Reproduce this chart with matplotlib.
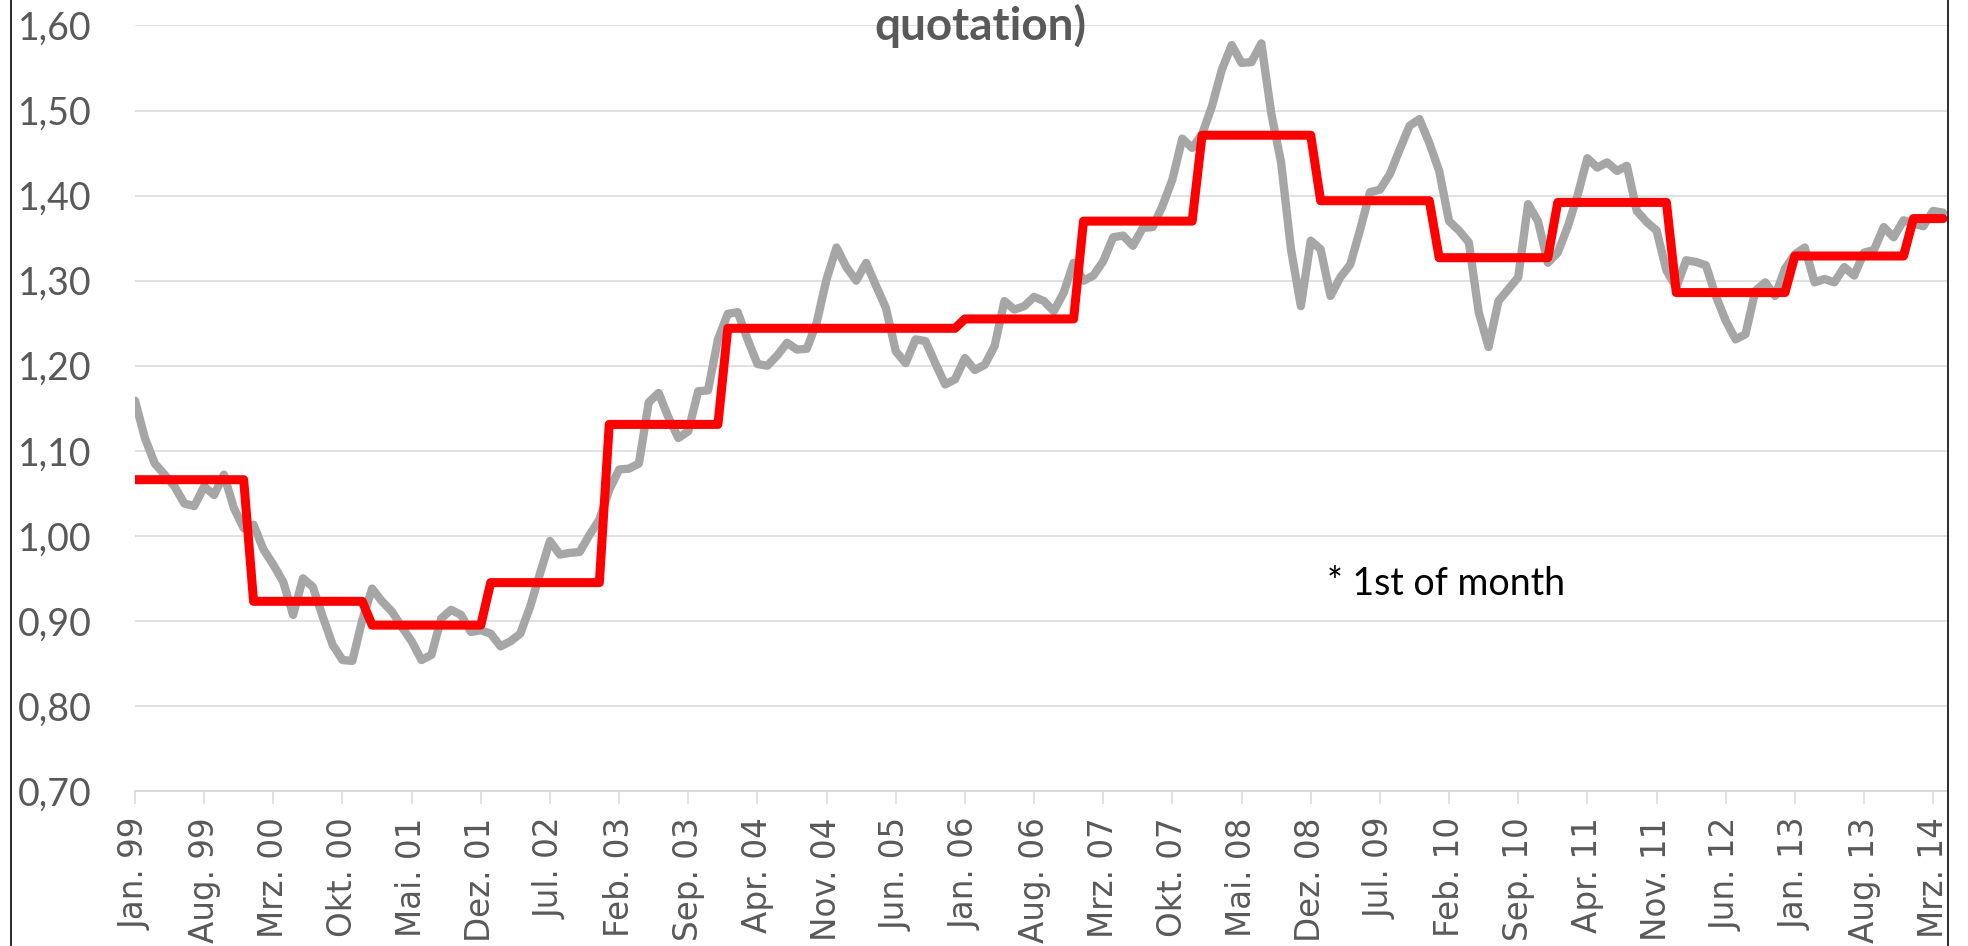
import matplotlib
matplotlib.use("Agg")
import matplotlib.pyplot as plt
from matplotlib.lines import Line2D
from matplotlib.patches import Rectangle
import numpy as np

# EUR/USD on the 1st of each month, Jan 1999 - Apr 2014
rate_monthly = [
    1.159, 1.115, 1.085, 1.072, 1.058, 1.038, 1.035, 1.058, 1.048, 1.072, 1.033, 1.009,  # 1999
    1.013, 0.984, 0.966, 0.946, 0.907, 0.950, 0.940, 0.905, 0.872, 0.854, 0.853, 0.901,  # 2000
    0.938, 0.923, 0.911, 0.893, 0.876, 0.854, 0.860, 0.903, 0.913, 0.907, 0.887, 0.889,  # 2001
    0.885, 0.870, 0.876, 0.885, 0.917, 0.956, 0.994, 0.978, 0.980, 0.981, 1.001, 1.019,  # 2002
    1.054, 1.078, 1.079, 1.085, 1.157, 1.168, 1.139, 1.115, 1.123, 1.170, 1.171, 1.231,  # 2003
    1.261, 1.263, 1.231, 1.202, 1.200, 1.212, 1.227, 1.219, 1.220, 1.251, 1.302, 1.339,  # 2004
    1.316, 1.300, 1.321, 1.294, 1.268, 1.217, 1.203, 1.231, 1.229, 1.203, 1.178, 1.184,  # 2005
    1.209, 1.195, 1.201, 1.223, 1.276, 1.266, 1.270, 1.281, 1.276, 1.264, 1.286, 1.321,  # 2006
    1.300, 1.306, 1.323, 1.351, 1.353, 1.341, 1.362, 1.363, 1.388, 1.419, 1.467, 1.456,  # 2007
    1.472, 1.505, 1.548, 1.577, 1.556, 1.557, 1.579, 1.497, 1.439, 1.337, 1.270, 1.347,  # 2008
    1.337, 1.282, 1.304, 1.319, 1.360, 1.404, 1.407, 1.425, 1.454, 1.482, 1.490, 1.462,  # 2009
    1.429, 1.370, 1.359, 1.345, 1.263, 1.222, 1.276, 1.290, 1.304, 1.390, 1.370, 1.321,  # 2010
    1.333, 1.363, 1.400, 1.444, 1.433, 1.439, 1.429, 1.435, 1.382, 1.369, 1.359, 1.312,  # 2011
    1.292, 1.324, 1.322, 1.318, 1.282, 1.253, 1.231, 1.237, 1.288, 1.298, 1.282, 1.314,  # 2012
    1.331, 1.339, 1.298, 1.302, 1.298, 1.316, 1.306, 1.333, 1.336, 1.363, 1.351, 1.371,  # 2013
    1.367, 1.364, 1.382, 1.380,                                                          # 2014
]

# yearly average, drawn for every month of its year
years = list(range(1999, 2015))
year_avg = [1.066, 0.923, 0.895, 0.945, 1.131, 1.244, 1.244, 1.255,
            1.370, 1.471, 1.394, 1.327, 1.392, 1.286, 1.329, 1.373]
months_in_year = [12] * 15 + [4]

xtick_labels = ["Jan. 99", "Aug. 99", "Mrz. 00", "Okt. 00", "Mai. 01", "Dez. 01",
                "Jul. 02", "Feb. 03", "Sep. 03", "Apr. 04", "Nov. 04", "Jun. 05",
                "Jan. 06", "Aug. 06", "Mrz. 07", "Okt. 07", "Mai. 08", "Dez. 08",
                "Jul. 09", "Feb. 10", "Sep. 10", "Apr. 11", "Nov. 11", "Jun. 12",
                "Jan. 13", "Aug. 13", "Mrz. 14"]
yticks = [0.70, 0.80, 0.90, 1.00, 1.10, 1.20, 1.30, 1.40, 1.50, 1.60]
ytick_labels = ["0,70", "0,80", "0,90", "1,00", "1,10", "1,20", "1,30", "1,40", "1,50", "1,60"]

W, H = 1968, 946
fig = plt.figure(figsize=(W / 100, H / 100), dpi=100)
fig.patch.set_facecolor("white")

ax = fig.add_axes([135 / W, 155 / H, (1948 - 135) / W, (920.5 - 155) / H])

x = np.arange(len(rate_monthly))
avg_line = np.repeat(year_avg, months_in_year)

ax.plot(x, rate_monthly, color="#A6A6A6", lw=6.0,
        solid_joinstyle="round", solid_capstyle="round", zorder=3)
ax.plot(x, avg_line, color="#FF0000", lw=6.5,
        solid_joinstyle="round", solid_capstyle="round", zorder=4)

ax.set_xlim(0, 183.5)
ax.set_ylim(0.70, 1.60)

ax.set_yticks(yticks)
ax.set_yticklabels(ytick_labels, family="Lato", fontsize=27, color="#595959")
ax.tick_params(axis="y", length=0, pad=31)
ax.grid(axis="y", color="#D9D9D9", lw=1.1, zorder=0)

ax.set_xticks(np.arange(0, 7 * len(xtick_labels), 7))
ax.set_xticklabels(xtick_labels, rotation=90, family="DejaVu Sans",
                   fontsize=23.5, color="#595959", va="top", ha="center")
ax.tick_params(axis="x", direction="out", length=9.4, width=1.1,
               color="#D9D9D9", pad=9.5)

for side in ["left", "right", "top"]:
    ax.spines[side].set_visible(False)
ax.spines["bottom"].set_color("#D9D9D9")
ax.spines["bottom"].set_linewidth(1.3)

fig.text(980 / W, (H - 40) / H, "quotation)", ha="center", va="baseline",
         family="Lato", fontweight="bold", fontsize=33, color="#595959")
fig.text(1327 / W, (H - 595) / H, "* 1st of month", ha="left", va="baseline",
         family="Lato", fontsize=27, color="black")

# chart frame: blank strip at the right and the two side borders
fig.add_artist(Rectangle((1949 / W, 0), 1 - 1949 / W, 1, transform=fig.transFigure,
                         facecolor="white", edgecolor="none", zorder=10))
for bx in [11, 1948]:
    fig.add_artist(Line2D([bx / W, bx / W], [0, 1], transform=fig.transFigure,
                          color="#1a1a1a", lw=1.3, zorder=11))

fig.savefig("out.png", dpi=100)
